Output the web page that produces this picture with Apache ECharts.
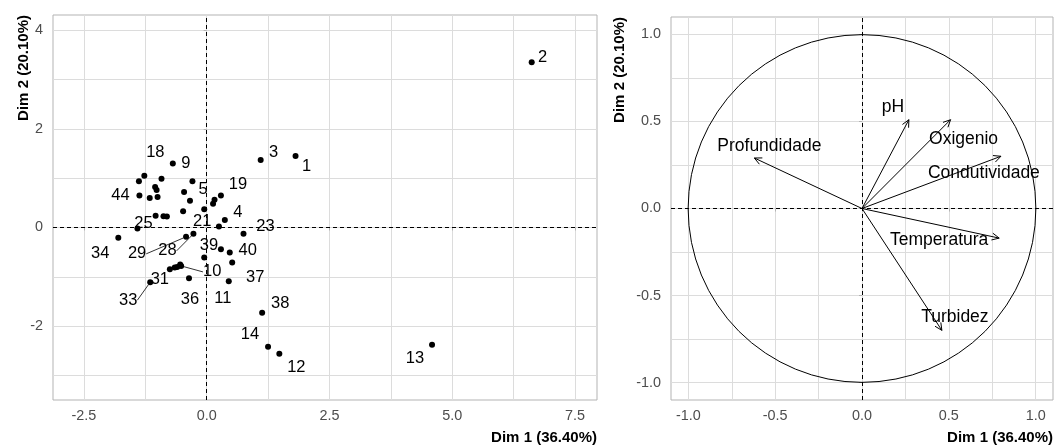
<!DOCTYPE html>
<html lang="en">
<head>
<meta charset="UTF-8">
<script src="https://cdn.jsdelivr.net/npm/echarts@6/dist/echarts.min.js"></script>
<style>
    html, body { margin: 0; background: #fff; }
    #chart { width: 1056px; height: 445px; }
</style>
</head>
<body>
<div id="chart"></div>
<script>
    // individuals (left panel)
    var indNames = ['2','13','1','3','12','14','38','9','18','','','','','','','44','','','5','19',
                    '','','21','4','','23','39','40','37','','11','','','','','25','34','29','28','31',
                    '','','','10','36','33'];
    var indX = [6.62, 4.59, 1.81, 1.10, 1.48, 1.25, 1.13, -0.69, -1.27, -1.38, -0.92, -0.29, -1.05, -1.02, -0.46, -1.37, -1.16, -1.00, -0.34, 0.29,
                0.16, 0.13, -0.05, 0.37, 0.25, 0.75, 0.29, 0.47, 0.52, -0.05, 0.45, -0.48, -1.04, -0.88, -0.81, -1.41, -1.80, -0.42, -0.27, -0.75,
                -0.65, -0.60, -0.54, -0.52, -0.36, -1.15];
    var indY = [3.35, -2.38, 1.45, 1.37, -2.56, -2.42, -1.73, 1.30, 1.05, 0.94, 0.99, 0.94, 0.82, 0.76, 0.72, 0.65, 0.60, 0.62, 0.54, 0.65,
                0.56, 0.48, 0.37, 0.15, 0.02, -0.13, -0.44, -0.51, -0.71, -0.61, -1.09, 0.33, 0.24, 0.23, 0.22, -0.02, -0.21, -0.19, -0.13, -0.85,
                -0.81, -0.80, -0.75, -0.78, -1.03, -1.11];

    // variables (right panel)
    var varNames = ['pH', 'Oxigenio', 'Condutividade', 'Temperatura', 'Turbidez', 'Profundidade'];
    var varX = [0.27, 0.51, 0.80, 0.79, 0.46, -0.62];
    var varY = [0.51, 0.51, 0.30, -0.17, -0.70, 0.29];

    // tick labels
    var leftXTicks = [-2.5, 0, 2.5, 5, 7.5];
    var leftYTicks = [-2, 0, 2, 4];
    var rightTicks = [-1, -0.5, 0, 0.5, 1];

    // label placement (px from the point), ggrepel style
    var indNudge = {
        '2': [11, -5], '13': [-17, 14], '1': [11, 10], '3': [13, -7], '12': [17, 14], '14': [-18, -12],
        '38': [18, -9], '37': [23, 15], '40': [18, -2], '39': [-12, -4], '11': [-6, 17], '23': [22, -7],
        '4': [13, -8], '21': [-2, 12], '19': [17, -11], '5': [13, -11], '9': [13, 0], '18': [11, -23],
        '44': [-19, 0], '25': [6, -5], '34': [-18, 16], '29': [-49, 17], '28': [-26, 17], '31': [-10, 10],
        '10': [31, 6], '36': [1, 21], '33': [-22, 18]
    };
    var withLeader = ['29', '28', '10', '33'];
    var varNudge = [[-16, -13], [13, 19], [-17, 17], [-60, 2], [13, -13], [15, -12]];

    var FONT = "'Liberation Sans', Arial, sans-serif";
    var GRID_COLOR = '#dcdcdc';
    var BORDER = '#b3b3b3';

    function minors(ticks) {
        var out = [];
        for (var i = 0; i < ticks.length; i++) {
            out.push(ticks[i]);
            if (i > 0) out.push((ticks[i] + ticks[i - 1]) / 2);
        }
        // one more minor outside each end
        var step = ticks[1] - ticks[0];
        out.push(ticks[0] - step / 2, ticks[ticks.length - 1] + step / 2);
        return out;
    }

    function labelAxis(dim, grid, min, max, ticks, fmt) {
        return {
            type: 'value', gridIndex: grid, min: min, max: max,
            position: dim === 'x' ? 'bottom' : 'left',
            axisLine: { show: false },
            axisTick: { show: true, length: 3, customValues: ticks, lineStyle: { color: BORDER } },
            axisLabel: {
                customValues: ticks, margin: dim === 'x' ? 9 : 10,
                color: '#4d4d4d', fontSize: 14.4, fontFamily: FONT, formatter: fmt
            },
            splitLine: { show: false }
        };
    }
    function gridAxis(dim, grid, min, max, ticks) {
        return {
            type: 'value', gridIndex: grid, min: min, max: max,
            position: dim === 'x' ? 'bottom' : 'left',
            axisLine: { show: false },
            axisTick: { show: false, customValues: minors(ticks) },
            axisLabel: { show: false },
            splitLine: { show: true, lineStyle: { color: GRID_COLOR, width: 1 } }
        };
    }
    var fmt1 = function (v) { return v.toFixed(1); };
    var fmt0 = function (v) { return v.toFixed(0); };

    var zeroLines = {
        silent: true, symbol: 'none', label: { show: false },
        lineStyle: { color: '#000', type: [4, 3], width: 1 },
        data: [{ xAxis: 0 }, { yAxis: 0 }]
    };

    var scatterData = indX.map(function (x, i) {
        var d = { name: indNames[i], value: [x, indY[i]] };
        if (withLeader.indexOf(indNames[i]) >= 0) {
            d.labelLine = { show: true, lineStyle: { color: '#000', width: 0.8, opacity: 1 } };
        }
        return d;
    });

    var arrowData = varX.map(function (x, i) { return [x, varY[i]]; });

    var option = {
        animation: false,
        backgroundColor: '#fff',
        grid: [
            { left: 53, top: 15, width: 544, height: 385, show: true, borderColor: BORDER, borderWidth: 1, backgroundColor: '#fff' },
            { left: 671, top: 17, width: 382, height: 383, show: true, borderColor: BORDER, borderWidth: 1, backgroundColor: '#fff' }
        ],
        xAxis: [
            labelAxis('x', 0, -3.13, 7.95, leftXTicks, fmt1),
            gridAxis('x', 0, -3.13, 7.95, leftXTicks),
            labelAxis('x', 1, -1.1, 1.1, rightTicks, fmt1),
            gridAxis('x', 1, -1.1, 1.1, rightTicks)
        ],
        yAxis: [
            labelAxis('y', 0, -3.5, 4.31, leftYTicks, fmt0),
            gridAxis('y', 0, -3.5, 4.31, leftYTicks),
            labelAxis('y', 1, -1.1, 1.1, rightTicks, fmt1),
            gridAxis('y', 1, -1.1, 1.1, rightTicks)
        ],
        graphic: [
            { type: 'text', x: 597, y: 438, style: { text: 'Dim 1 (36.40%)', align: 'right', verticalAlign: 'middle', font: 'bold 15px ' + FONT, fill: '#000' } },
            { type: 'text', x: 1053, y: 438, style: { text: 'Dim 1 (36.40%)', align: 'right', verticalAlign: 'middle', font: 'bold 15px ' + FONT, fill: '#000' } },
            { type: 'text', x: 24, y: 15, rotation: Math.PI / 2, style: { text: 'Dim 2 (20.10%)', align: 'right', verticalAlign: 'middle', font: 'bold 15px ' + FONT, fill: '#000' } },
            { type: 'text', x: 620, y: 17, rotation: Math.PI / 2, style: { text: 'Dim 2 (20.10%)', align: 'right', verticalAlign: 'middle', font: 'bold 15px ' + FONT, fill: '#000' } }
        ],
        series: [
            {
                type: 'scatter', xAxisIndex: 0, yAxisIndex: 0,
                symbolSize: 6, itemStyle: { color: '#000', opacity: 1 },
                data: scatterData,
                label: {
                    show: true, position: 'inside', formatter: '{b}',
                    color: '#000', fontSize: 16.5, fontFamily: FONT,
                    align: 'center', verticalAlign: 'middle'
                },
                labelLayout: function (p) {
                    var n = indNudge[indNames[p.dataIndex]];
                    return n ? { dx: n[0], dy: n[1] } : {};
                },
                markLine: zeroLines,
                z: 3
            },
            {
                // correlation circle
                type: 'custom', xAxisIndex: 2, yAxisIndex: 2, clip: false, silent: true,
                data: [[0, 0]],
                renderItem: function (params, api) {
                    var c = api.coord([0, 0]);
                    var r = api.size([1, 1]);
                    return {
                        type: 'circle',
                        shape: { cx: c[0], cy: c[1], r: (r[0] + r[1]) / 2 },
                        style: { stroke: '#000', fill: null, lineWidth: 1 }
                    };
                },
                markLine: zeroLines,
                z: 2
            },
            {
                // variable arrows
                type: 'custom', xAxisIndex: 2, yAxisIndex: 2, clip: false, silent: true,
                data: arrowData,
                renderItem: function (params, api) {
                    var p0 = api.coord([0, 0]);
                    var p1 = api.coord([api.value(0), api.value(1)]);
                    var ang = Math.atan2(p1[1] - p0[1], p1[0] - p0[0]);
                    var L = 8, w = Math.PI / 7;
                    var h1 = [p1[0] - L * Math.cos(ang - w), p1[1] - L * Math.sin(ang - w)];
                    var h2 = [p1[0] - L * Math.cos(ang + w), p1[1] - L * Math.sin(ang + w)];
                    var nd = varNudge[params.dataIndex];
                    return {
                        type: 'group',
                        children: [
                            { type: 'line', shape: { x1: p0[0], y1: p0[1], x2: p1[0], y2: p1[1] }, style: { stroke: '#000', lineWidth: 1 } },
                            { type: 'polyline', shape: { points: [h1, p1, h2] }, style: { stroke: '#000', fill: null, lineWidth: 1 } },
                            { type: 'text', style: { text: varNames[params.dataIndex], x: p1[0] + nd[0], y: p1[1] + nd[1],
                                align: 'center', verticalAlign: 'middle', font: '17.5px ' + FONT, fill: '#000' } }
                        ]
                    };
                },
                z: 3
            }
        ]
    };

    var chart = echarts.init(document.getElementById('chart'));
    chart.setOption(option);
</script>
</body>
</html>
